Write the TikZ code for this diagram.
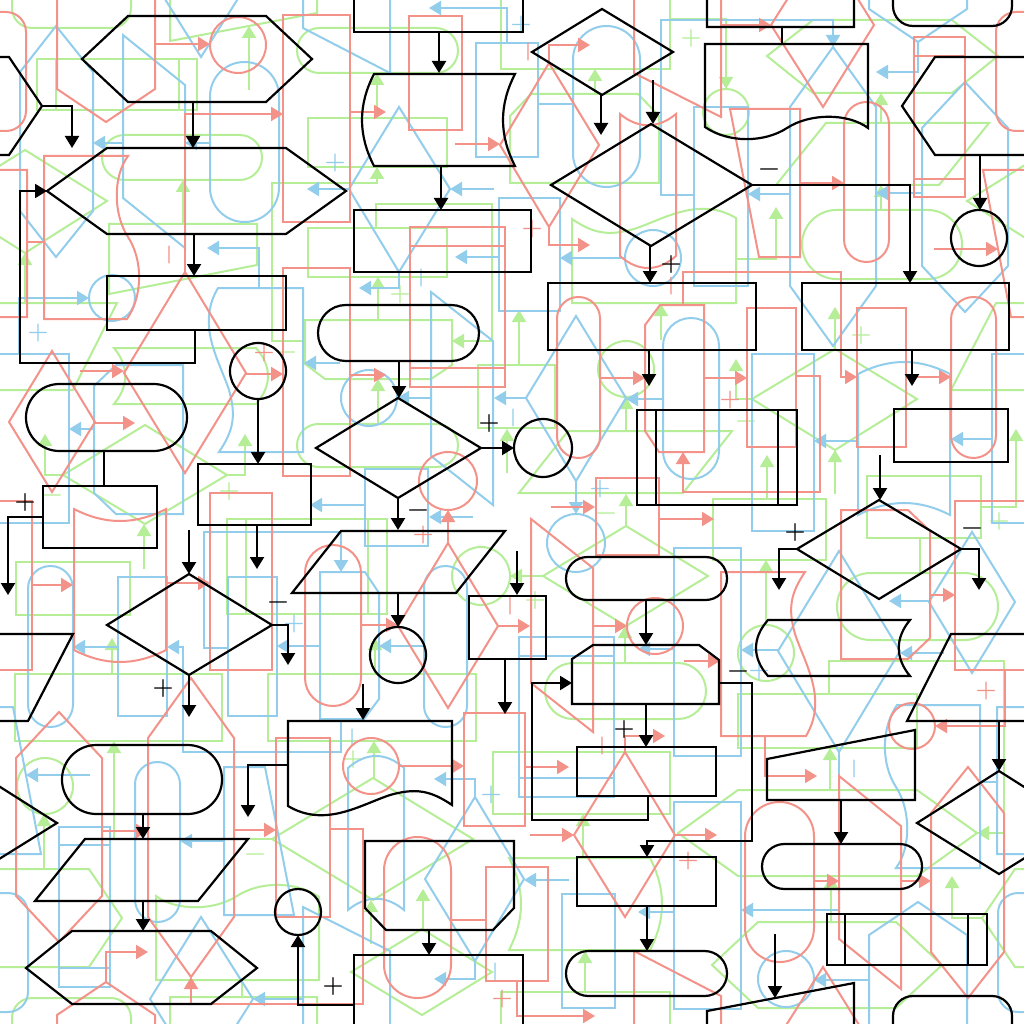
\documentclass[tikz,border=0pt]{standalone}
\usepackage{fontspec}
\usetikzlibrary{arrows.meta}
\definecolor{kred}{RGB}{243,146,137}
\definecolor{kblue}{RGB}{146,205,236}
\definecolor{kgreen}{RGB}{181,238,150}
\newcommand\labfont{\fontsize{24}{24}\selectfont\bfseries}
\tikzset{
  ink/.style={draw=black,line width=2.2pt},
  arr/.style={-{Triangle[length=12pt,width=14pt]}},
  lab/.style={text=black,inner sep=0pt,font=\labfont},
}
% shapes that cross the tile edges
\newcommand\hexthree{%
  \draw[ink] (902,106) -- (935,57) -- (1033,57) -- (1066,106) -- (1033,155) -- (935,155) -- cycle;
  \draw[ink,arr] (1066,106) -- (1096,106) -- (1096,148);}
\newcommand\parall{%
  \draw[ink] (951,634) -- (1097,634) -- (1052,721) -- (907,721) -- cycle;
  \draw[ink] (917,823) -- (999,771) -- (1081,823) -- (999,874) -- cycle;}
\newcommand\bottomrow{%
  \draw[ink] (354,955) rectangle (523,1056);
  \draw[ink] (707,1011) -- (854,983) -- (854,1051) -- (707,1051) -- cycle;
  \draw[ink,rounded corners=20pt] (893,996) rectangle (1012,1050);}
\newcommand\flowtile[1]{%
  % wrapped shapes
  \hexthree
  \begin{scope}[shift={(-1024,0)}]\hexthree\parall\end{scope}
  \parall
  \bottomrow
  \begin{scope}[shift={(0,-1024)}]\bottomrow\end{scope}
  % top left
  \draw[ink] (82,59) -- (128,16) -- (266,16) -- (312,59) -- (266,102) -- (128,102) -- cycle;
  \draw[ink,arr] (193,102) -- (193,148);
  \draw[ink] (47,191) -- (107,148) -- (286,148) -- (346,191) -- (286,234) -- (107,234) -- cycle;
  \draw[ink,arr] (194,234) -- (194,276);
  \draw[ink] (107,276) rectangle (286,330);
  \draw[ink,arr] (195,330) -- (195,363) -- (20,363) -- (20,191) -- (47,191);
  \draw[ink,arr] (980,155) -- (980,210);
  \draw[ink] (979,238) circle[radius=28pt];
  % top middle
  \draw[ink,arr] (439,32) -- (439,73);
  \draw[ink] (374,74) -- (515,74) .. controls (499,105) and (499,135) .. (515,166) -- (374,166) .. controls (358,135) and (358,105) .. (374,74) -- cycle;
  \draw[ink,arr] (441,166) -- (441,210);
  \draw[ink] (354,210) rectangle (531,272);
  \draw[ink] (532,52) -- (602,9) -- (673,52) -- (602,95) -- cycle;
  \draw[ink,arr] (601,95) -- (601,135);
  \draw[ink,arr] (653,80) -- (653,124);
  \draw[ink] (551,185) -- (651,124) -- (752,185) -- (651,246) -- cycle;
  \draw[ink,arr] (752,185) -- (910,185) -- (910,283);
  \draw[ink,arr] (650,246) -- (650,283);
  \node[lab] (#1m1) at (769,172) {−};
  \node[lab] (#1p1) at (671,265) {+};
  \draw[ink] (548,283) rectangle (756,350);
  \draw[ink,arr] (649,350) -- (649,386);
  \draw[ink] (802,283) rectangle (1009,350);
  \draw[ink,arr] (912,350) -- (912,386);
  % top right
  \draw[ink] (782,27) -- (782,44);
  \draw[ink] (705,127) -- (705,44) -- (868,44) -- (868,128) .. controls (848,113) and (810,113) .. (787,128) .. controls (764,143) and (728,143) .. (705,127) -- cycle;
  % middle
  \draw[ink,rounded corners=27.9pt] (318,305) rectangle (479,361);
  \draw[ink,arr] (399,361) -- (399,398);
  \draw[ink] (316,448) -- (398,398) -- (481,448) -- (398,498) -- cycle;
  \draw[ink,arr] (481,448) -- (514,448);
  \draw[ink] (543,448) circle[radius=29pt];
  \draw[ink,arr] (398,498) -- (398,530);
  \node[lab] (#1p2) at (489,424) {+};
  \node[lab] (#1m2) at (418,513) {−};
  \draw[ink] (341,531) -- (505,531) -- (456,593) -- (292,593) -- cycle;
  \draw[ink,arr] (398,593) -- (398,627);
  \draw[ink] (398,655) circle[radius=28pt];
  \draw[ink] (258,371) circle[radius=28pt];
  \draw[ink,arr] (258,399) -- (258,464);
  \draw[ink] (198,464) rectangle (311,525);
  \draw[ink,arr] (257,525) -- (257,569);
  \draw[ink,rounded corners=33.4pt] (26,384) rectangle (187,451);
  \draw[ink] (104,451) -- (104,486);
  \draw[ink] (43,486) rectangle (157,548);
  \draw[ink,arr] (43,517) -- (8,517) -- (8,595);
  \node[lab] (#1p3) at (25,503) {+};
  \draw[ink,arr] (189,530) -- (189,574);
  \draw[ink] (107,625) -- (189,574) -- (272,625) -- (189,675) -- cycle;
  \draw[ink,arr] (272,625) -- (288,625) -- (288,665);
  \draw[ink,arr] (189,675) -- (189,717);
  \node[lab] (#1m3) at (278,605) {−};
  \node[lab] (#1p4) at (163,689) {+};
  \draw[ink,arr] (999,721) -- (999,771);
  \draw[ink,arr] (517,551) -- (517,595);
  \draw[ink] (469,596) rectangle (546,659);
  \draw[ink,arr] (505,659) -- (505,714);
  \draw[ink,arr] (363,684) -- (363,720);
  \draw[ink] (288,806) -- (288,721) -- (452,721) -- (452,805) .. controls (430,790) and (415,788) .. (390,795) .. controls (360,805) and (325,828) .. (288,806) -- cycle;
  \draw[ink,arr] (288,765) -- (248,765) -- (248,817);
  \draw[ink,rounded corners=21.4pt] (566,557) rectangle (727,600);
  \draw[ink,arr] (646,600) -- (646,645);
  \draw[ink] (572,659) -- (593,645) -- (699,645) -- (719,660) -- (719,704) -- (572,704) -- cycle;
  \draw[ink,arr] (719,683) -- (752,683) -- (752,841) -- (647,841) -- (647,857);
  \node[lab] (#1m4) at (738,674) {−};
  \draw[ink,arr] (646,704) -- (646,747);
  \node[lab] (#1p5) at (624,730) {+};
  \draw[ink] (577,747) rectangle (716,796);
  \draw[ink,arr] (648,796) -- (648,820) -- (532,820) -- (532,683) -- (572,683);
  \draw[ink] (577,857) rectangle (716,906);
  \draw[ink,arr] (647,906) -- (647,951);
  \draw[ink,rounded corners=22.4pt] (566,951) rectangle (727,996);
  % right
  \draw[ink] (637,410) rectangle (797,505);
  \draw[ink] (656,410) -- (656,505) (778,410) -- (778,505);
  \draw[ink] (894,409) rectangle (1008,462);
  \draw[ink,arr] (880,455) -- (880,500);
  \draw[ink] (797,549) -- (879,500) -- (961,549) -- (879,599) -- cycle;
  \draw[ink,arr] (797,549) -- (779,549) -- (779,590);
  \draw[ink,arr] (961,549) -- (979,549) -- (979,590);
  \node[lab] (#1p6) at (795,533) {+};
  \node[lab] (#1m5) at (972,531) {−};
  \draw[ink] (768,620) -- (910,620) .. controls (895,638) and (895,658) .. (910,676) -- (768,676) .. controls (752,658) and (752,638) .. (768,620) -- cycle;
  \draw[ink] (767,759) -- (915,730) -- (915,800) -- (767,800) -- cycle;
  \draw[ink,arr] (841,800) -- (841,844);
  \draw[ink,rounded corners=22.4pt] (762,844) rectangle (922,889);
  \draw[ink] (827,914) rectangle (987,965);
  \draw[ink] (845,914) -- (845,965) (968,914) -- (968,965);
  \draw[ink,arr] (775,934) -- (775,998);
  % bottom left
  \draw[ink,rounded corners=34.4pt] (62,745) rectangle (222,814);
  \draw[ink,arr] (143,814) -- (143,839);
  \draw[ink] (85,839) -- (248,839) -- (198,901) -- (35,901) -- cycle;
  \draw[ink,arr] (143,901) -- (143,931);
  \draw[ink] (26,968) -- (72,931) -- (211,931) -- (257,968) -- (211,1004) -- (72,1004) -- cycle;
  \draw[ink] (298,912) circle[radius=23pt];
  \draw[ink,arr] (355,1005) -- (298,1005) -- (298,935);
  \node[lab] (#1p7) at (333,986) {+};
  \draw[ink] (365,841) -- (514,841) -- (514,908) -- (493,930) -- (386,930) -- (365,908) -- cycle;
  \draw[ink,arr] (429,930) -- (429,955);
}
\begin{document}
\begin{tikzpicture}[x=1pt,y=-1pt]
\useasboundingbox (0,0) rectangle (1024,1024);
\fill[white] (0,0) rectangle (1024,1024);
\clip (0,0) rectangle (1024,1024);
\begin{scope}[rotate around={180:(512,512)},transform shape,
  ink/.style={draw=kgreen,line width=2pt}, lab/.style={text=kgreen,inner sep=0pt,font=\labfont}]
  \flowtile{g}
\end{scope}
\begin{scope}[rotate around={-90:(512,512)},transform shape,
  ink/.style={draw=kblue,line width=2pt}, lab/.style={text=kblue,inner sep=0pt,font=\labfont}]
  \flowtile{b}
\end{scope}
\begin{scope}[rotate around={90:(512,512)},transform shape,
  ink/.style={draw=kred,line width=2pt}, lab/.style={text=kred,inner sep=0pt,font=\labfont}]
  \flowtile{r}
\end{scope}
\flowtile{k}
\end{tikzpicture}
\end{document}
